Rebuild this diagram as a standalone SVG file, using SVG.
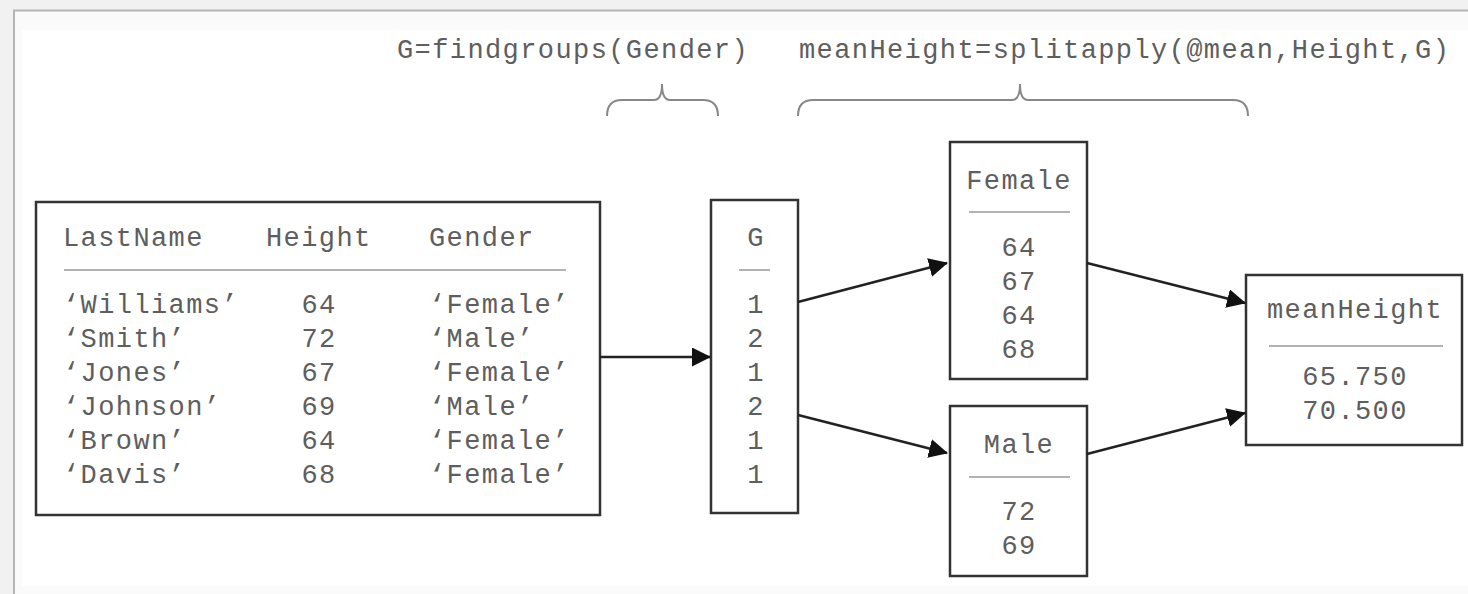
<svg xmlns="http://www.w3.org/2000/svg" width="1468" height="594" viewBox="0 0 1468 594">
<style>
text{font-family:"Liberation Mono","DejaVu Sans Mono",monospace;font-size:27px;letter-spacing:1.4px;fill:#5e5e5e}
.c{text-anchor:middle}
.box{fill:#fff;stroke:#333;stroke-width:2.5}
.sep{stroke:#999;stroke-width:1.5}
.brace{fill:none;stroke:#888;stroke-width:2}
.conn{stroke:#222;stroke-width:2.5;fill:none;marker-end:url(#ah)}
</style>
<defs>
<marker id="ah" markerUnits="userSpaceOnUse" markerWidth="19" markerHeight="19" viewBox="0 0 19 19" refX="18" refY="9.5" orient="auto">
<path d="M0,0 L19,9.5 L0,19 z" fill="#111"/>
</marker>
</defs>
<rect width="1468" height="594" fill="#f1f1f1"/>
<rect x="14" y="10.5" width="1456" height="586" fill="#fafafa" stroke="#b5b5b5" stroke-width="2"/>
<rect x="22" y="30" width="1446" height="556" fill="#fff"/>

<g id="labels">
<text x="397" y="58">G=findgroups(Gender)</text>
<text x="799" y="58">meanHeight=splitapply(@mean,Height,G)</text>
<path class="brace" d="M607,116 Q607,100 622,100 L654,100 Q662,100 662,84 Q662,100 670,100 L703,100 Q718,100 718,116"/>
<path class="brace" d="M798,116 Q798,100 813,100 L1012,100 Q1020,100 1020,84 Q1020,100 1028,100 L1233,100 Q1248,100 1248,116"/>
</g>

<g id="table">
<rect class="box" x="36" y="202" width="564" height="313"/>
<text x="63" y="246">LastName</text>
<text x="266" y="246">Height</text>
<text x="429" y="246">Gender</text>
<line class="sep" x1="64" y1="270" x2="566" y2="270"/>
<text x="63" y="313">‘Williams’</text>
<text x="63" y="347">‘Smith’</text>
<text x="63" y="381">‘Jones’</text>
<text x="63" y="415">‘Johnson’</text>
<text x="63" y="449">‘Brown’</text>
<text x="63" y="483">‘Davis’</text>
<text class="c" x="319" y="313">64</text>
<text class="c" x="319" y="347">72</text>
<text class="c" x="319" y="381">67</text>
<text class="c" x="319" y="415">69</text>
<text class="c" x="319" y="449">64</text>
<text class="c" x="319" y="483">68</text>
<text x="429" y="313">‘Female’</text>
<text x="429" y="347">‘Male’</text>
<text x="429" y="381">‘Female’</text>
<text x="429" y="415">‘Male’</text>
<text x="429" y="449">‘Female’</text>
<text x="429" y="483">‘Female’</text>
</g>

<g id="G">
<rect class="box" x="711" y="200" width="87" height="313"/>
<text class="c" x="756" y="246">G</text>
<line class="sep" x1="739" y1="270" x2="770" y2="270"/>
<text class="c" x="756" y="313">1</text>
<text class="c" x="756" y="347">2</text>
<text class="c" x="756" y="381">1</text>
<text class="c" x="756" y="415">2</text>
<text class="c" x="756" y="449">1</text>
<text class="c" x="756" y="483">1</text>
</g>

<g id="female">
<rect class="box" x="950" y="142" width="137" height="237"/>
<text class="c" x="1019" y="189">Female</text>
<line class="sep" x1="969" y1="212" x2="1070" y2="212"/>
<text class="c" x="1019" y="256">64</text>
<text class="c" x="1019" y="290">67</text>
<text class="c" x="1019" y="324">64</text>
<text class="c" x="1019" y="358">68</text>
</g>

<g id="male">
<rect class="box" x="950" y="406" width="137" height="170"/>
<text class="c" x="1019" y="453">Male</text>
<line class="sep" x1="969" y1="477" x2="1070" y2="477"/>
<text class="c" x="1019" y="520">72</text>
<text class="c" x="1019" y="554">69</text>
</g>

<g id="meanHeight">
<rect class="box" x="1246" y="275" width="216" height="170"/>
<text class="c" x="1355" y="318">meanHeight</text>
<line class="sep" x1="1269" y1="346" x2="1443" y2="346"/>
<text class="c" x="1355" y="385">65.750</text>
<text class="c" x="1355" y="419">70.500</text>
</g>

<g id="connectors">
<line class="conn" x1="600" y1="357" x2="710" y2="357"/>
<line class="conn" x1="798" y1="302" x2="947" y2="263"/>
<line class="conn" x1="798" y1="415" x2="947" y2="453"/>
<line class="conn" x1="1087" y1="263" x2="1245" y2="303"/>
<line class="conn" x1="1087" y1="454" x2="1245" y2="413"/>
</g>
</svg>
